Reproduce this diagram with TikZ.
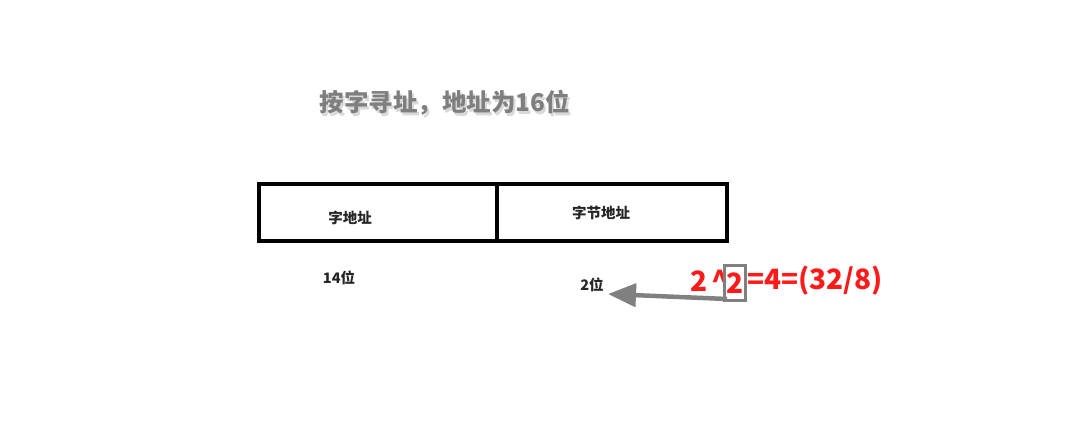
\documentclass[tikz,border=0pt]{standalone}
\usepackage{fontspec}
\newfontfamily\cjk{Noto Sans CJK SC}
\usetikzlibrary{arrows.meta}
\definecolor{titlegray}{HTML}{7F7F7F}
\definecolor{arrowgray}{HTML}{808080}
\definecolor{redtext}{HTML}{FF1A1A}
\tikzset{
  cell/.style={draw=black, line width=4pt, inner sep=0pt},
  lbl/.style={font=\cjk\bfseries\fontsize{14.5}{17}\selectfont, text=black!85, inner sep=0pt},
  formula/.style={font=\cjk\bfseries\fontsize{28}{32}\selectfont, text=redtext, inner sep=0pt},
}
\begin{document}
\begin{tikzpicture}[x=1pt,y=-1pt]
\useasboundingbox (0,0) rectangle (1065,436);
% title with soft shadow
\node[font=\cjk\bfseries\fontsize{24.5}{28}\selectfont, text=black!15, inner sep=0pt] at (447,105.5) {按字寻址，地址为16位};
\node[font=\cjk\bfseries\fontsize{24.5}{28}\selectfont, text=titlegray, inner sep=0pt] (title) at (445,103) {按字寻址，地址为16位};
% boxes
\draw[cell] (259,184) rectangle (727,241);
\draw[cell] (497,184) -- (497,241);
\node[lbl] (wa) at (350,218) {字地址};
\node[lbl] (ba) at (601,213) {字节地址};
\node[lbl] (b14) at (339,278) {14位};
\node[lbl] (b2) at (592,285) {2位};
% formula
\node[formula, anchor=west] (fa) at (690,281) {2\,\textasciicircum};
\node[draw=arrowgray, line width=2.2pt, minimum width=21pt, minimum height=35pt, inner sep=0pt, formula] (two) at (735,283) {2};
\node[formula, anchor=west] (fb) at (747,281) {=4=(32/8)};
% arrow
\coordinate (as) at (727,299);
\coordinate (at) at (608,294);
\draw[arrowgray, line width=4.5pt, -{Triangle[length=28pt,width=23pt]}] (as) -- (at);
\end{tikzpicture}
\end{document}
